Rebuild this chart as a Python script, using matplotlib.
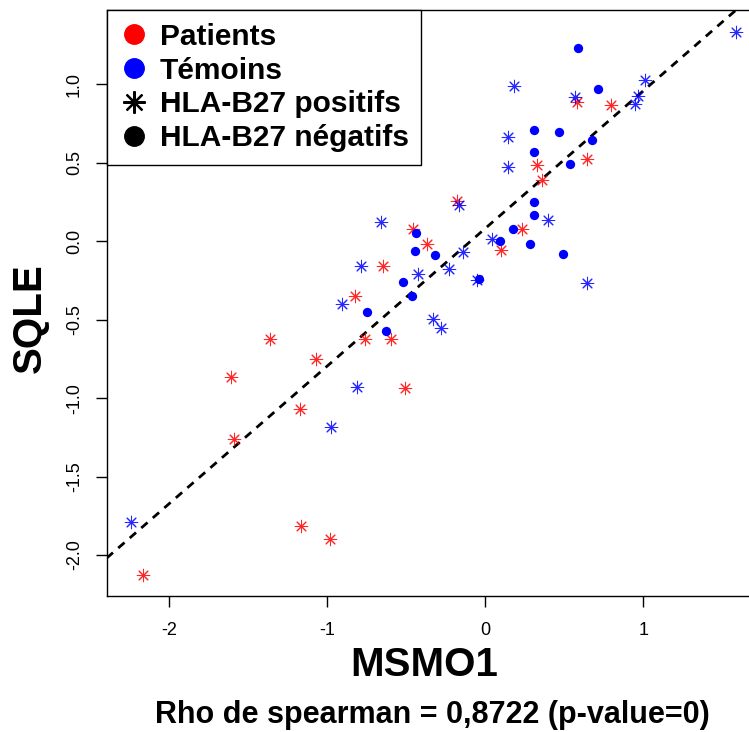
import matplotlib.pyplot as plt
from matplotlib.lines import Line2D

plt.rcParams['font.family'] = ['Liberation Sans', 'DejaVu Sans']
plt.rcParams['axes.unicode_minus'] = False

# -------------------------------
# DATA
# -------------------------------
# patients, HLA-B27 positive (red asterisks)
pat_x = [0.578, 0.796, 0.642, 0.325, 0.361, -0.181, 0.232, 0.097, -0.367, -0.460,
         -0.649, -0.822, -0.597, -0.761, -1.363, -1.071, -1.611, -0.508, -1.173,
         -1.588, -1.165, -0.983, -2.168]
pat_y = [0.887, 0.871, 0.527, 0.484, 0.393, 0.257, 0.081, -0.053, -0.019, 0.079,
         -0.155, -0.348, -0.620, -0.620, -0.626, -0.750, -0.864, -0.936, -1.072,
         -1.261, -1.813, -1.900, -2.125]

# controls, HLA-B27 positive (blue asterisks)
ctl_pos_x = [1.585, 0.180, 0.568, 1.013, 0.968, 0.948, 0.146, 0.142, 0.399, -0.165,
             0.040, -0.139, -0.228, -0.054, 0.646, -0.329, -0.278, -0.660, -0.787,
             -0.424, -0.905, -0.810, -0.978, -2.242]
ctl_pos_y = [1.333, 0.987, 0.919, 1.030, 0.924, 0.877, 0.664, 0.473, 0.134, 0.229,
             0.013, -0.068, -0.178, -0.244, -0.265, -0.493, -0.550, 0.125, -0.157,
             -0.210, -0.399, -0.932, -1.187, -1.792]

# controls, HLA-B27 negative (blue dots)
ctl_neg_x = [0.585, 0.711, 0.308, 0.465, 0.675, 0.308, 0.538, 0.308, 0.306, 0.175,
             0.093, 0.283, 0.489, -0.320, -0.038, -0.439, -0.443, -0.519, -0.462,
             -0.751, -0.630]
ctl_neg_y = [1.234, 0.970, 0.707, 0.696, 0.648, 0.569, 0.490, 0.250, 0.166, 0.076,
             0.002, -0.019, -0.083, -0.087, -0.242, 0.053, -0.059, -0.259, -0.350,
             -0.454, -0.573]

# regression line
fit_slope = 0.877
fit_intercept = 0.082

x_ticks = [-2, -1, 0, 1]
y_ticks = [-2.0, -1.5, -1.0, -0.5, 0.0, 0.5, 1.0]
legend_labels = ["Patients", "Témoins", "HLA-B27 positifs", "HLA-B27 négatifs"]
rho_text = "Rho de spearman = 0,8722 (p-value=0)"

# -------------------------------
# PLOT
# -------------------------------
W, H = 749, 732
fig = plt.figure(figsize=(W / 100, H / 100), dpi=100)
ax = fig.add_axes([106.7 / W, 136 / H, (W - 106.7) / W, 586 / H])

star = (8, 2, 0)
ax.scatter(pat_x, pat_y, marker=star, s=81, c="red", linewidths=0.75, alpha=0.85, zorder=3)
ax.scatter(ctl_pos_x, ctl_pos_y, marker=star, s=81, c="blue", linewidths=0.75, alpha=0.85, zorder=3)
ax.scatter(ctl_neg_x, ctl_neg_y, marker="o", s=45, c="blue", linewidths=0, zorder=3)

ax.axline((0, fit_intercept), slope=fit_slope, color="black", lw=2,
          dashes=(3, 2.5), zorder=2)

ax.set_xlim(-2.396, 1.669)
ax.set_ylim(-2.261, 1.474)
ax.set_xticks(x_ticks)
ax.set_xticklabels([str(v) for v in x_ticks])
ax.set_yticks(y_ticks)
ax.set_yticklabels(["%.1f" % v for v in y_ticks])
ax.tick_params(direction="out", length=8, width=1, labelsize=13, pad=11)
ax.tick_params(axis="y", labelrotation=90, pad=9)
for lbl in ax.get_yticklabels():
    lbl.set_va("center")

ax.spines["right"].set_visible(False)
for s in ["left", "bottom", "top"]:
    ax.spines[s].set_linewidth(1.0)

ax.set_xlabel("MSMO1", fontsize=29, fontweight="bold")
ax.xaxis.label.set_va("center")
ax.xaxis.set_label_coords(0.495, -0.118)
ax.set_ylabel("SQLE", fontsize=29, fontweight="bold")
ax.yaxis.label.set_va("center")
ax.yaxis.set_label_coords(-0.119, 0.474)

handles = [
    Line2D([], [], ls="none", marker="o", color="red", markersize=14),
    Line2D([], [], ls="none", marker="o", color="blue", markersize=14),
    Line2D([], [], ls="none", marker=star, color="black", markersize=16, mew=1.6),
    Line2D([], [], ls="none", marker="o", color="black", markersize=14),
]
leg = ax.legend(handles, legend_labels, loc="upper left", bbox_to_anchor=(0, 1),
                borderaxespad=0, prop={"weight": "bold", "size": 21.5},
                fancybox=False, edgecolor="black", framealpha=1,
                borderpad=0.42, handlelength=1.0, handletextpad=0.36,
                labelspacing=0.2)
leg.get_frame().set_linewidth(1.0)

fig.text(432 / W, 1 - 715 / H, rho_text, ha="center", va="center",
         fontsize=22, fontweight="bold")

plt.savefig("out.png", dpi=100)
plt.close()
